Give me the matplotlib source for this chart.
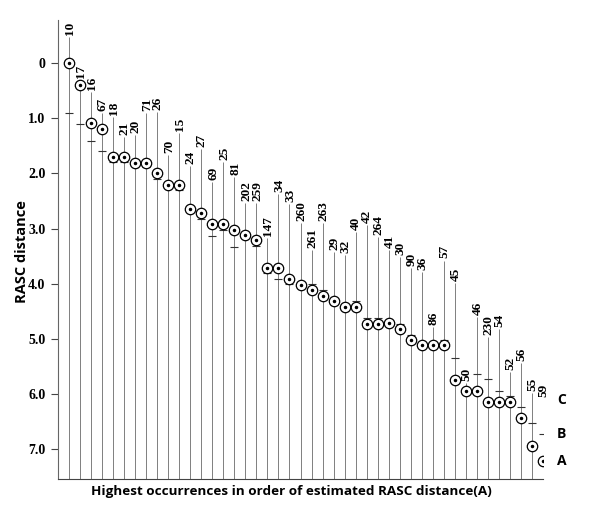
import matplotlib
matplotlib.use("Agg")
import matplotlib.pyplot as plt
import numpy as np

# Taxon numbers, in order of estimated RASC distance (A)
names = ['10', '17', '16', '67', '18', '21', '20', '71', '26', '70', '15', '24',
         '27', '69', '25', '81', '202', '259', '147', '34', '33', '260', '261',
         '263', '29', '32', '40', '42', '264', '41', '30', '90', '36', '86', '57',
         '45', '50', '46', '230', '54', '52', '56', '55', '59']

# A: estimated RASC distance (circles)
dist_a = [0.00, 0.40, 1.09, 1.20, 1.70, 1.70, 1.81, 1.81, 2.00, 2.21, 2.21, 2.64,
          2.72, 2.92, 2.92, 3.03, 3.11, 3.21, 3.71, 3.71, 3.91, 4.02, 4.12,
          4.23, 4.31, 4.43, 4.43, 4.73, 4.73, 4.72, 4.83, 5.02, 5.12, 5.12, 5.12,
          5.74, 5.95, 5.95, 6.15, 6.15, 6.15, 6.44, 6.94, 7.22]

# B: second estimate (short horizontal ticks)
dist_b = [0.91, 1.10, 1.41, 1.59, 1.80, 1.80, 1.81, 1.88, 2.10, 2.21, 2.31, 2.64,
          2.83, 3.13, 3.03, 3.33, 3.12, 3.31, 3.81, 3.91, 4.01, 4.02, 4.01,
          4.11, 4.31, 4.43, 4.31, 4.62, 4.62, 4.72, 4.73, 4.93, 5.12, 5.12, 5.02,
          5.34, 5.95, 5.63, 5.73, 5.94, 6.03, 6.24, 6.53, 6.72]

# C: third estimate (top of each vertical line)
dist_c = [-0.47, 0.31, 0.53, 0.91, 0.98, 1.34, 1.30, 0.91, 0.89, 1.67, 1.27, 1.87,
          1.56, 2.16, 1.79, 2.07, 2.54, 2.54, 3.17, 2.37, 2.55, 2.90, 3.39,
          2.90, 3.42, 3.48, 3.06, 2.93, 3.15, 3.39, 3.51, 3.71, 3.79, 4.78, 3.58,
          3.99, 5.80, 4.60, 4.96, 4.82, 5.60, 5.43, 5.98, 6.10]

yticks = [0, 1, 2, 3, 4, 5, 6, 7]
ytick_labels = ['0', '1.0', '2.0', '3.0', '4.0', '5.0', '6.0', '7.0']

fig = plt.figure(figsize=(6.0, 5.07), dpi=100)
ax = fig.add_axes([58/600, 1-479/507, (543-58)/600, (479-20)/507])

x = np.arange(len(names))
ymin, ymax = -0.78, 7.54
ax.set_xlim(-1, len(names) - 1)
ax.set_ylim(ymax, ymin)

num_font = dict(family='Liberation Serif', weight='bold', size=9.5)

# vertical lines
ax.vlines(x, dist_c, ymax, colors='#6a6a6a', linewidth=0.6, zorder=1)
# B ticks
ax.plot(x, dist_b, linestyle='none', marker='_', markersize=6.0,
        markeredgewidth=0.8, color='#333333', zorder=2)
# A circles
ax.plot(x, dist_a, linestyle='none', marker='o', markersize=7.5,
        markerfacecolor='white', markeredgecolor='black',
        markeredgewidth=0.9, zorder=3)
ax.plot(x, dist_a, linestyle='none', marker='o', markersize=1.5,
        color='black', zorder=4)

# taxon labels
for xi, yc, nm in zip(x, dist_c, names):
    ax.annotate(nm, (xi, yc), xytext=(0.5, 1.5), textcoords='offset points',
                rotation=90, ha='center', va='bottom', annotation_clip=False,
                **num_font)

# A, B, C markers at right
abc_font = dict(family='Open Sans', weight='bold', size=10)
for lab, yv in zip(['A', 'B', 'C'], [dist_a[-1], dist_b[-1], dist_c[-1]]):
    ax.annotate(lab, (x[-1], yv), xytext=(10, 0), textcoords='offset points',
                ha='left', va='center', annotation_clip=False, **abc_font)

ax.set_yticks(yticks)
ax.set_yticklabels(ytick_labels, **dict(num_font, size=10))
ax.tick_params(axis='y', direction='out', length=5, width=0.8, pad=4,
               color='#444444')
ax.set_xticks([])

for s in ['top', 'right']:
    ax.spines[s].set_visible(False)
ax.spines['left'].set_color('#666666')
ax.spines['bottom'].set_color('#444444')
ax.spines['left'].set_linewidth(0.8)
ax.spines['bottom'].set_linewidth(0.8)

fig.text(291/600, 1-492/507, 'Highest occurrences in order of estimated RASC distance(A)',
         ha='center', va='center', family='Open Sans', weight='bold', size=9.7)
fig.text(22/600, 1-252/507, 'RASC distance', rotation=90, ha='center', va='center',
         family='Open Sans', weight='bold', size=10.5)

fig.savefig('out.png', dpi=100)
